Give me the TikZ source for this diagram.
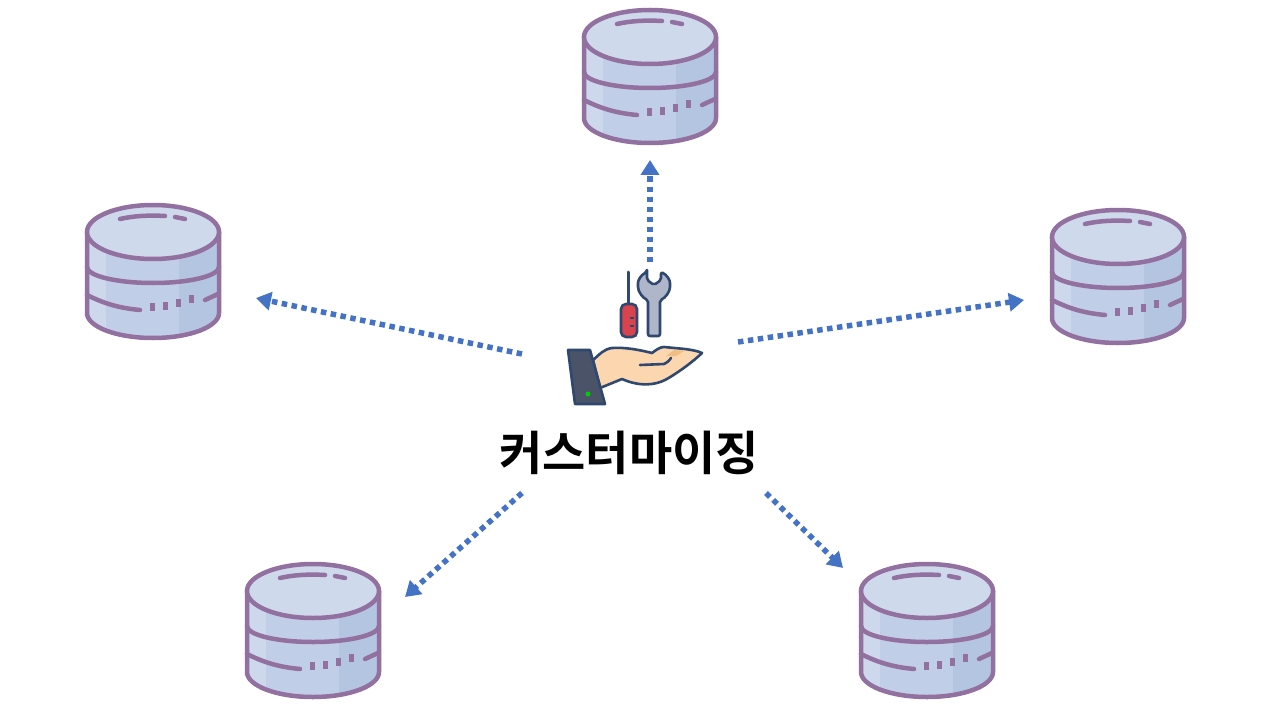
\documentclass[tikz,border=0pt]{standalone}
\usepackage{fontspec}
\usepackage{xcolor}
\usetikzlibrary{arrows.meta}
\newfontfamily\cjk[BoldFont={Noto Sans CJK KR Bold}]{Noto Sans CJK KR}
\definecolor{dbline}{RGB}{146,112,160}
\definecolor{dbtop}{RGB}{207,217,236}
\definecolor{dbmid}{RGB}{193,206,231}
\definecolor{dbleft}{RGB}{205,216,236}
\definecolor{dbright}{RGB}{180,197,225}
\definecolor{flow}{RGB}{68,114,196}
\definecolor{iconline}{RGB}{47,72,112}
\definecolor{skin}{RGB}{251,214,174}
\definecolor{fingers}{RGB}{240,190,130}
\definecolor{cuff}{RGB}{74,83,104}
\definecolor{steel}{RGB}{176,182,202}
\definecolor{grip}{RGB}{217,67,78}
\tikzset{
    flowarrow/.style = {draw=flow, line width=5.5, dash pattern=on 5.5 off 4.5, -{Triangle[length=15,width=18]}},
    dbstroke/.style = {draw=dbline, line width=4.5, line cap=round},
    dbtick/.style = {draw=dbline, line width=5},
    iconstroke/.style = {draw=iconline, line width=2.6, line join=round, line cap=round},
    database/.pic = {
        \begin{scope}
            \clip (-66,-39) -- (-66,42) arc[start angle=180, end angle=0, x radius=66, y radius=25] -- (66,-39) -- cycle;
            \fill[dbmid] (-66,-70) rectangle (66,70);
            \fill[dbleft] (-66,-70) rectangle (-47,70);
            \fill[dbright] (26,-70) rectangle (66,70);
        \end{scope}
        \draw[dbstroke] (-66,-39) -- (-66,42) arc[start angle=180, end angle=0, x radius=66, y radius=25] -- (66,-39);
        \draw[dbstroke, fill=dbtop] (0,-39) ellipse[x radius=66, y radius=27];
        \draw[dbstroke] (-66,-4) arc[start angle=180, end angle=0, x radius=66, y radius=16];
        \draw[dbstroke] (-66,24) .. controls (-50,32) and (-35,37) .. (-13,39);
        \foreach \dx/\dy in {-1/36, 12/35, 25/32, 38/28}
            \draw[dbtick] (\dx,\dy-4) -- (\dx,\dy+4);
        \draw[dbstroke] (52,29) -- (65,23);
        \draw[dbstroke] (-33,-52) .. controls (-20,-55) and (-5,-56) .. (12,-55);
        \draw[dbstroke] (22,-54) -- (32,-52);
    }
}

\begin{document}
\begin{tikzpicture}[x=1pt, y=-1pt]
    \useasboundingbox (0,0) rectangle (1281,722);

    \pic at (650,76) {database};
    \pic at (153,271) {database};
    \pic at (1118,276) {database};
    \pic at (313,630) {database};
    \pic at (927,630) {database};

    % tools
    \draw[iconstroke, line width=3] (628,272) -- (628,303);
    \draw[iconstroke, fill=grip, rounded corners=5] (621,304) rectangle (637,337);
    \draw[draw=iconline, line width=1.5] (630,318) -- (634,318) (630,326) -- (634,326);
    \draw[iconstroke, fill=steel, rounded corners=2] (647,272) -- (647,280) -- (654,285) -- (661,280) -- (661,272)
        .. controls (667,275) and (670,280) .. (670,285) .. controls (670,292) and (665,298) .. (660,300)
        -- (660,336) -- (648,336) -- (648,300) .. controls (643,298) and (638,292) .. (638,285)
        .. controls (638,280) and (641,275) .. (647,272) -- cycle;

    % hand
    \draw[iconstroke, fill=skin] (593,360) .. controls (600,354) and (604,349) .. (612,348) .. controls (625,347) and (640,350) .. (652,353)
        .. controls (656,350) and (660,347) .. (664,347) -- (685,349) .. controls (692,350) and (698,351) .. (702,353)
        .. controls (695,360) and (678,373) .. (665,380) .. controls (655,385) and (640,387) .. (622,379)
        -- (600,388) -- cycle;
    \fill[fingers] (666,356) -- (674,350) -- (684,351) -- (676,356) -- cycle;
    \draw[iconstroke] (640,365) -- (664,364) .. controls (668,362) and (670,360) .. (671,358);
    \draw[iconstroke, fill=cuff] (568,350) -- (590,350) -- (605,404) -- (575,404) -- cycle;
    \fill[green!80!black] (588,394) circle[radius=2.5];

    \node[font=\cjk\bfseries\fontsize{47}{47}\selectfont] (title) at (629,453) {커스터마이징};

    \coordinate (topstart) at (650,262);
    \coordinate (topend) at (650,160);
    \coordinate (leftstart) at (522,354);
    \coordinate (leftend) at (256,298);
    \coordinate (rightstart) at (738,342);
    \coordinate (rightend) at (1024,300);
    \coordinate (lowleftstart) at (522,493);
    \coordinate (lowleftend) at (405,597);
    \coordinate (lowrightstart) at (766,493);
    \coordinate (lowrightend) at (843,568);

    \draw[flowarrow] (topstart) -- (topend);
    \draw[flowarrow] (leftstart) -- (leftend);
    \draw[flowarrow] (rightstart) -- (rightend);
    \draw[flowarrow] (lowleftstart) -- (lowleftend);
    \draw[flowarrow] (lowrightstart) -- (lowrightend);
\end{tikzpicture}
\end{document}
